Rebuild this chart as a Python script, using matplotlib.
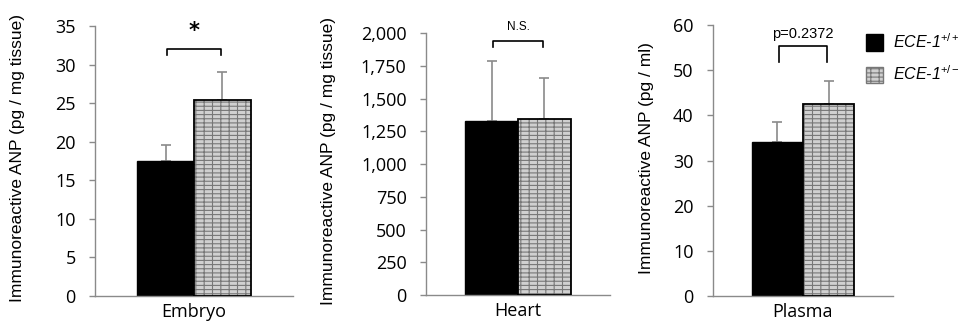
import matplotlib
matplotlib.use("Agg")
import matplotlib.pyplot as plt
from matplotlib.patches import Patch

# data
panels = ["Embryo", "Heart", "Plasma"]
wt_mean = [17.5, 1330, 34.0]
wt_err = [2.1, 460, 4.6]
het_mean = [25.4, 1345, 42.6]
het_err = [3.6, 310, 5.1]
ylims = [35, 2000, 60]
ysteps = [5, 250, 10]
ylabels = ["Immunoreactive ANP (pg / mg tissue)",
           "Immunoreactive ANP (pg / mg tissue)",
           "Immunoreactive ANP (pg / ml)"]
sig_text = ["*", "N.S.", "p=0.2372"]
bracket_y = [32.0, 1940, 55.4]
bracket_drop = [0.7, 45, 3.5]
text_y = [33.0, 2000, 56.5]
legend_labels = [r"ECE-1$^{\mathit{+/+}}$", r"ECE-1$^{\mathit{+/-}}$"]

plt.rcParams["mathtext.fontset"] = "custom"
plt.rcParams["mathtext.it"] = "Liberation Sans:italic"
plt.rcParams["mathtext.rm"] = "Liberation Sans"
plt.rcParams["hatch.linewidth"] = 0.8

grey = "#8a8a8a"
brick_face = "#d0d0d0"
brick_line = "#777777"
brick_hatch = "----||"

fig = plt.figure(figsize=(9.63, 3.24), dpi=100)
boxes = [[0.0987, 0.0864, 0.2055, 0.8334],
         [0.4424, 0.0895, 0.1910, 0.8085],
         [0.7404, 0.0864, 0.1869, 0.8364]]
label_x = [-0.354, -0.489, -0.328]

for i in range(3):
    ax = fig.add_axes(boxes[i])
    # error bars (up only), drawn behind the bars
    ax.errorbar([-0.5], [wt_mean[i]], yerr=[[0], [wt_err[i]]], fmt="none",
                ecolor=grey, elinewidth=1.2, capsize=3.5, capthick=1.2, zorder=1)
    ax.errorbar([0.5], [het_mean[i]], yerr=[[0], [het_err[i]]], fmt="none",
                ecolor=grey, elinewidth=1.2, capsize=3.5, capthick=1.2, zorder=1)
    ax.bar([-0.5], [wt_mean[i]], width=1.0, color="black", edgecolor="black", zorder=2)
    ax.bar([0.5], [het_mean[i]], width=1.0, color=brick_face, edgecolor=brick_line,
           hatch=brick_hatch, linewidth=0, zorder=2)
    ax.bar([0.5], [het_mean[i]], width=1.0, fill=False, edgecolor="black",
           linewidth=1.3, zorder=3)

    # significance bracket
    by = bracket_y[i]
    bd = bracket_drop[i]
    ax.plot([-0.47, -0.47, 0.47, 0.47], [by - bd, by, by, by - bd], color="black",
            lw=1.2, clip_on=False, zorder=4)
    if i == 0:
        ax.text(0, text_y[i], sig_text[i], ha="center", va="bottom", fontsize=15,
                fontweight="bold", family="DejaVu Sans")
    else:
        ax.text(0, text_y[i], sig_text[i], ha="center", va="bottom",
                fontsize=8.5 if i == 1 else 10.5, family="Liberation Sans")

    ax.set_xlim(-1.75, 1.75)
    ax.set_ylim(0, ylims[i])
    ticks = list(range(0, ylims[i] + 1, ysteps[i]))
    ax.set_yticks(ticks)
    ax.set_yticklabels([f"{t:,}" for t in ticks], fontsize=13, family="Open Sans")
    ax.set_xticks([])
    ax.set_xlabel(panels[i], fontsize=13, family="Open Sans", labelpad=5)
    ax.set_ylabel(ylabels[i], fontsize=12.5, family="Liberation Sans")
    ax.yaxis.set_label_coords(label_x[i], 0.51)
    for s in ["top", "right"]:
        ax.spines[s].set_visible(False)
    for s in ["left", "bottom"]:
        ax.spines[s].set_color(grey)
        ax.spines[s].set_linewidth(1.0)
    ax.tick_params(axis="y", colors=grey, length=4, width=1.0, labelcolor="black", pad=10)

handles = [Patch(facecolor="black", edgecolor="black"),
           Patch(facecolor=brick_face, edgecolor=brick_line, hatch=brick_hatch)]
fig.legend(handles, legend_labels, loc="upper left", bbox_to_anchor=(0.893, 0.92),
           frameon=False, handlelength=1.05, handleheight=1.2,
           handletextpad=0.6, labelspacing=0.85, borderaxespad=0,
           prop={"family": "Liberation Sans", "style": "italic", "size": 11.5})

fig.savefig("out.png", dpi=100)
